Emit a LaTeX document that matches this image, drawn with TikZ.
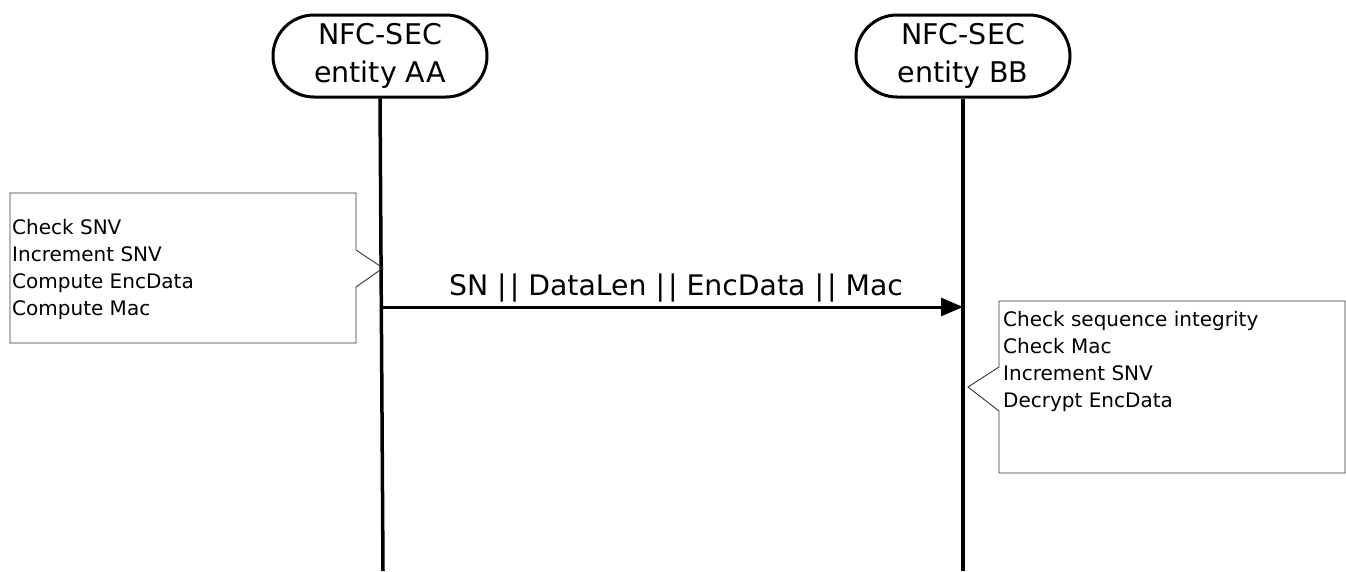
\documentclass[tikz,border=0pt]{standalone}
\usepackage{fontspec}
\setmainfont{DejaVu Sans}
\usetikzlibrary{arrows.meta,shapes.misc}
\tikzset{
  entity/.style={draw, line width=3pt, rounded rectangle, minimum width=214pt, minimum height=82pt, inner sep=0pt, align=center, font=\fontsize{28.5}{38}\selectfont},
  lifeline/.style={line width=3.5pt},
  msg/.style={line width=3pt, -{Triangle[length=22pt,width=18pt]}},
  msglabel/.style={font=\fontsize{28.3}{34}\selectfont, inner sep=0pt},
  notetext/.style={anchor=north west, inner sep=0pt, align=left, font=\fontsize{20}{27}\selectfont},
  noteline/.style={draw=black!80, line width=0.9pt}
}
\newcommand{\dbar}{|\kern3pt|}
\begin{document}
\begin{tikzpicture}[x=1pt,y=-1pt]
\useasboundingbox (0,0) rectangle (1346,571);
% entities
\node[entity] (AA) at (380,56) {NFC-SEC\\entity AA};
\node[entity] (BB) at (963,56) {NFC-SEC\\entity BB};
% lifelines
\coordinate (AAend) at (383,571);
\coordinate (BBend) at (963,571);
\draw[lifeline] (AA.south) -- (AAend);
\draw[lifeline] (BB.south) -- (BBend);
% message
\coordinate (m1s) at (381.5,307);
\coordinate (m1e) at (963,307);
\draw[msg] (m1s) -- (m1e);
\node[msglabel] (m1l) at (676,288) {SN \dbar{} DataLen \dbar{} EncData \dbar{} Mac};
% left note
\coordinate (tipA) at (383,268);
\draw[noteline] (10,193) -- (356,193) -- (356,250) -- (tipA) -- (356,287) -- (356,343) -- (10,343) -- cycle;
\node[notetext] (noteA) at (12,219) {Check SNV\\Increment SNV\\Compute EncData\\Compute Mac};
% right note
\coordinate (tipB) at (968,387);
\draw[noteline] (999,301) -- (1345,301) -- (1345,473) -- (999,473) -- (999,411) -- (tipB) -- (999,367) -- cycle;
\node[notetext] (noteB) at (1003,311) {Check sequence integrity\\Check Mac\\Increment SNV\\Decrypt EncData};
\end{tikzpicture}
\end{document}
